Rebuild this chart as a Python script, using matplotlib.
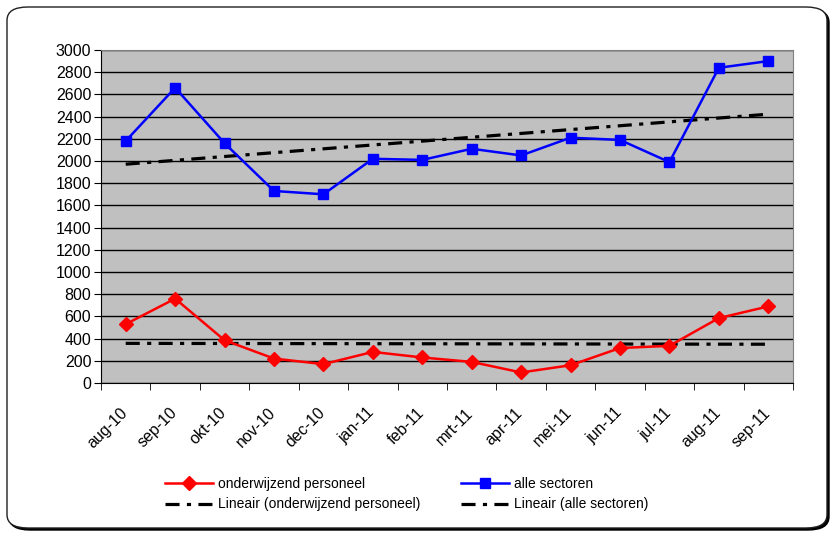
import numpy as np
import matplotlib
matplotlib.use("Agg")
import matplotlib.pyplot as plt
from matplotlib.patches import FancyBboxPatch
from matplotlib.transforms import ScaledTranslation

plt.rcParams["font.family"] = ["Liberation Sans", "DejaVu Sans"]

months = ["aug-10", "sep-10", "okt-10", "nov-10", "dec-10", "jan-11", "feb-11",
          "mrt-11", "apr-11", "mei-11", "jun-11", "jul-11", "aug-11", "sep-11"]
onderwijs = [530, 760, 385, 220, 170, 280, 230, 190, 95, 160, 315, 335, 585, 690]
alle = [2180, 2660, 2160, 1730, 1700, 2020, 2010, 2110, 2050, 2210, 2190, 1990, 2840, 2900]

x = np.arange(len(months))

fig = plt.figure(figsize=(8.39, 5.33), dpi=100)

# rounded frame with a small shadow, behind everything
shadow = FancyBboxPatch((9 / 839, 3 / 533), 820 / 839, 521 / 533,
                        boxstyle="round,pad=0,rounding_size=0.025",
                        transform=fig.transFigure, facecolor="black",
                        edgecolor="black", lw=1, zorder=-2)
frame = FancyBboxPatch((7 / 839, 5 / 533), 820 / 839, 521 / 533,
                       boxstyle="round,pad=0,rounding_size=0.025",
                       transform=fig.transFigure, facecolor="white",
                       edgecolor="#202020", lw=1, zorder=-1)
fig.patches.extend([shadow, frame])

ax = fig.add_axes([101 / 839, 1 - 383 / 533, 692 / 839, 333 / 533])
ax.set_facecolor("#C0C0C0")

# linear trendlines (Excel "Lineair")
fit_o = np.polyfit(x, onderwijs, 1)
fit_a = np.polyfit(x, alle, 1)
dash = (0, (4.4, 2.3, 1.3, 2.3))

l1, = ax.plot(x, onderwijs, color="#FF0000", lw=1.8, marker="D", ms=7,
              label="onderwijzend personeel", zorder=4)
l2, = ax.plot(x, alle, color="#0000FF", lw=1.8, marker="s", ms=7,
              label="alle sectoren", zorder=4)
t1, = ax.plot(x, np.polyval(fit_o, x), color="black", lw=2.3, linestyle=dash,
              label="Lineair (onderwijzend personeel)", zorder=3)
t2, = ax.plot(x, np.polyval(fit_a, x), color="black", lw=2.3, linestyle=dash,
              label="Lineair (alle sectoren)", zorder=3)

ax.set_xlim(-0.5, len(months) - 0.5)
ax.set_ylim(0, 3000)
ax.set_yticks(np.arange(0, 3001, 200))
ax.yaxis.grid(True, color="black", lw=1)
ax.set_axisbelow(True)

ax.set_xticks(x)
ax.set_xticklabels(months, rotation=45, ha="right", rotation_mode="anchor")
ax.set_xticks(np.arange(-0.5, len(months), 1), minor=True)
ax.tick_params(axis="x", which="major", length=0, labelsize=11.5, pad=16)
ax.tick_params(axis="x", which="minor", length=5, direction="out")
ax.tick_params(axis="y", length=5, direction="out", labelsize=11.5, pad=2)

# nudge the rotated month labels so they end under their point
shift = ScaledTranslation(-6 / 100, 0, fig.dpi_scale_trans)
for lab in ax.get_xticklabels():
    lab.set_transform(lab.get_transform() + shift)

for side in ["top", "right"]:
    ax.spines[side].set_color("#808080")
ax.spines["left"].set_color("black")
ax.spines["bottom"].set_color("black")

fig.legend([l1, t1, l2, t2],
           [l1.get_label(), t1.get_label(), l2.get_label(), t2.get_label()],
           ncol=2, loc="center", bbox_to_anchor=(407 / 839, 1 - 494 / 533),
           frameon=False, fontsize=10, handlelength=3.45, columnspacing=2.95,
           handletextpad=0.36, labelspacing=0.5, borderpad=0)

fig.savefig("out.png", dpi=100)
